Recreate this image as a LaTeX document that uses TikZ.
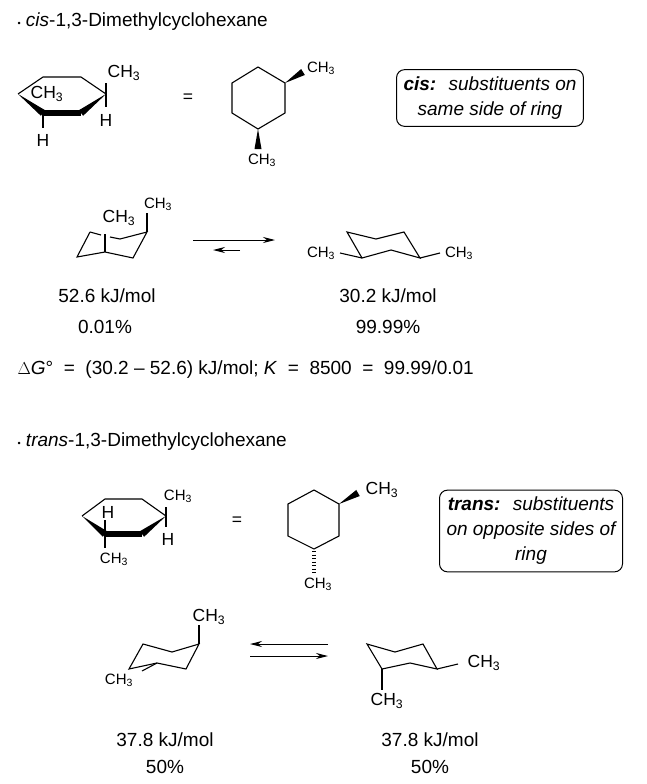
\documentclass[tikz,border=0pt]{standalone}
\usepackage{fontspec}
\setmainfont{Liberation Sans}
\usetikzlibrary{calc,arrows.meta}
\newcommand{\me}{CH\textsubscript{3}}
\newcommand{\wedgebond}[2]{\fill #1 -- ($#2!3.5pt!90:#1$) -- ($#2!3.5pt!-90:#1$) -- cycle;}
\begin{document}
\begin{tikzpicture}[x=1pt,y=-1pt,line width=1.1pt,
  every node/.style={font=\fontsize{17.5}{20}\selectfont,inner sep=1pt},
  lbl/.style={font=\fontsize{19}{22}\selectfont},
  small/.style={font=\fontsize{15}{17}\selectfont},
  infobox/.style={draw,rounded corners=8pt,line width=1pt,align=center,font=\fontsize{19}{25}\itshape\selectfont,inner sep=7pt},
  eqarrow/.style={-{Stealth[length=12pt,width=6pt]},line width=1pt}]
\useasboundingbox (0,0) rectangle (646,784);
% cis title
\node[lbl,anchor=west] (cistitle) at (16,22) {{\small\textbullet} \textit{cis}-1,3-Dimethylcyclohexane};
% cis chair (H/CH3)
\draw (18,94) -- (43,77) -- (81,77) -- (106,94);
\wedgebond{(18,94)}{(43,113)}
\draw[line width=5.5pt] (43,113) -- (81,113);
\wedgebond{(106,94)}{(81,113)}
\draw (43,113) -- (43,128);
\draw (106,83) -- (106,107);
\node (cisH1) at (43,140) {H};
\node (cisMe1) at (47,94) {\me};
\node (cisMe2) at (124,73) {\me};
\node (cisH2) at (106,120) {H};
\node (cisEq) at (188,98) {=};
% cis hexagon
\draw (232,83) -- (258,67) -- (285,83) -- (285,113) -- (258,129) -- (232,113) -- cycle;
\wedgebond{(285,83)}{(303,72)}
\wedgebond{(258,129)}{(258,149)}
\node[small] (hexMe1) at (321,68) {\me};
\node[small] (hexMe2) at (262,160) {\me};
\node[infobox] (cisbox) at (490,98) {\textbf{cis:} \ substituents on\\same side of ring};
% cis equilibrium
\draw (90,232) -- (101,235);
\draw (110,237) -- (120,239) -- (147,232) -- (133,258) -- (105,252) -- (77,257) -- (90,232);
\draw (105,252) -- (105,234);
\draw (147,232) -- (147,213);
\node (axMe1) at (119,218) {\me};
\node[small] (axMe2) at (158,204) {\me};
\draw[eqarrow] (193,240) -- (275,240);
\draw[eqarrow] (240,250) -- (213,250);
\draw (347,232) -- (376,239) -- (404,232) -- (420,258) -- (391,250) -- (362,258) -- cycle;
\draw (362,258) -- (340,253);
\draw (420,258) -- (440,253);
\node[small] (eqMe1) at (321,253) {\me};
\node[small] (eqMe2) at (459,253) {\me};
\node[lbl] (e1) at (107,296) {52.6 kJ/mol};
\node[lbl] (e2) at (388,296) {30.2 kJ/mol};
\node[lbl] (p1) at (105,327) {0.01\%};
\node[lbl] (p2) at (388,327) {99.99\%};
\node[lbl,anchor=west] (dG) at (16,370) {$\Delta$\textit{G}° \ = \ (30.2 -- 52.6) kJ/mol; \textit{K} \ = \ 8500 \ = \ 99.99/0.01};
% trans title
\node[lbl,anchor=west] (transtitle) at (16,442) {{\small\textbullet} \textit{trans}-1,3-Dimethylcyclohexane};
% trans chair
\draw (82,516) -- (105,499) -- (142,499) -- (166,516);
\wedgebond{(82,516)}{(105,534)}
\draw[line width=5.5pt] (105,534) -- (142,534);
\wedgebond{(166,516)}{(142,534)}
\draw (105,534) -- (105,520);
\draw (105,534) -- (105,548);
\draw (166,507) -- (166,527);
\node (tH1) at (108,512) {H};
\node[small] (tMe1) at (114,559) {\me};
\node[small] (tMe2) at (178,496) {\me};
\node (tH2) at (168,539) {H};
\node (transEq) at (237,521) {=};
\draw (288,504) -- (314,490) -- (339,504) -- (339,536) -- (314,549) -- (288,536) -- cycle;
\wedgebond{(339,504)}{(358,493)}
\draw[line width=3.5pt,dash pattern=on 1.3pt off 2.2pt] (314,551) -- (314,574);
\node (thMe1) at (382,490) {\me};
\node[small] (thMe2) at (318,584) {\me};
\node[infobox] (transbox) at (531,531) {\textbf{trans:} \ substituents\\on opposite sides of\\ring};
% trans equilibrium
\draw (129,669) -- (143,644) -- (172,652) -- (199,644) -- (186,669) -- (157,663) -- cycle;
\draw (199,644) -- (199,625);
\draw (157,663) -- (142,671);
\node (lMe1) at (209,617) {\me};
\node[small] (lMe2) at (119,680) {\me};
\draw[eqarrow] (328,644) -- (250,644);
\draw[eqarrow] (250,656) -- (328,656);
\draw (367,644) -- (395,652) -- (423,644) -- (437,669) -- (410,663) -- (382,669) -- cycle;
\draw (437,669) -- (458,664);
\draw (382,669) -- (382,690);
\node (rMe1) at (484,663) {\me};
\node (rMe2) at (387,701) {\me};
\node[lbl] (e3) at (165,740) {37.8 kJ/mol};
\node[lbl] (e4) at (430,740) {37.8 kJ/mol};
\node[lbl] (p3) at (165,767) {50\%};
\node[lbl] (p4) at (430,767) {50\%};
\end{tikzpicture}
\end{document}
